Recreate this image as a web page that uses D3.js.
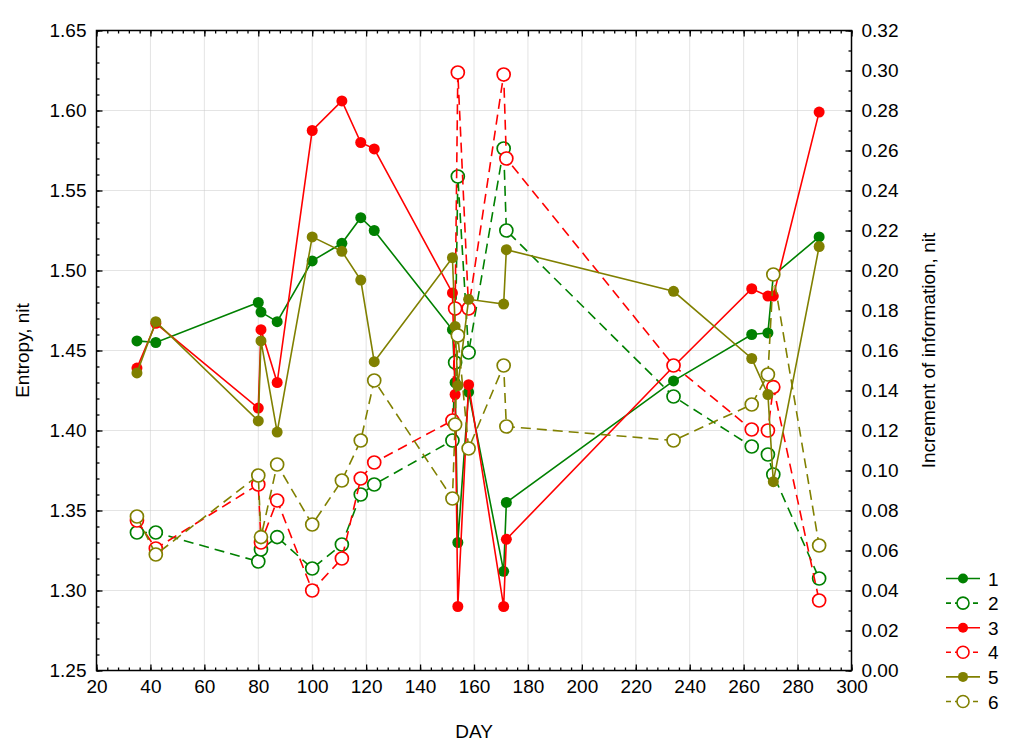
<!DOCTYPE html>
<html>
<head>
<meta charset="utf-8">
<script src="https://cdn.jsdelivr.net/npm/d3@7"></script>
<style>
  html, body { margin: 0; padding: 0; background: #fff; }
  svg { display: block; font-family: "Liberation Sans", Arial, sans-serif; }
</style>
</head>
<body>
<svg id="chart" width="1024" height="753"></svg>
<script>
// ---- Data ----
const days = [35, 42, 80, 81, 87, 100, 111, 118, 123, 152, 153, 154, 158, 171, 172, 234, 263, 269, 271, 288];

// Entropy, nit (left axis)
const series1 = [1.456, 1.455, 1.480, 1.474, 1.468, 1.506, 1.517, 1.533, 1.525, 1.463, 1.430, 1.330, 1.424, 1.312, 1.355, 1.431, 1.460, 1.461, 1.497, 1.521];
const series3 = [1.439, 1.467, 1.414, 1.463, 1.430, 1.5875, 1.606, 1.580, 1.576, 1.486, 1.4225, 1.290, 1.4286, 1.290, 1.332, 1.440, 1.4886, 1.484, 1.484, 1.599];
const series5 = [1.436, 1.468, 1.406, 1.456, 1.399, 1.521, 1.512, 1.494, 1.443, 1.508, 1.465, 1.428, 1.482, 1.479, 1.513, 1.487, 1.445, 1.4225, 1.368, 1.515];

// Increment of information, nit (right axis)
const series2 = [0.069, 0.069, 0.0545, 0.0605, 0.0667, 0.051, 0.063, 0.088, 0.093, 0.115, 0.154, 0.247, 0.159, 0.261, 0.220, 0.137, 0.112, 0.108, 0.098, 0.046];
const series4 = [0.075, 0.061, 0.093, 0.064, 0.085, 0.040, 0.056, 0.096, 0.104, 0.125, 0.181, 0.299, 0.181, 0.298, 0.256, 0.1525, 0.1205, 0.120, 0.1417, 0.035];
const series6 = [0.077, 0.058, 0.0975, 0.0667, 0.103, 0.073, 0.095, 0.115, 0.145, 0.086, 0.123, 0.1675, 0.111, 0.1525, 0.122, 0.115, 0.133, 0.148, 0.198, 0.0625];

const seriesNames = ["1", "2", "3", "4", "5", "6"];
const seriesValues = [series1, series2, series3, series4, series5, series6];
const seriesAxis = ["left", "right", "left", "right", "left", "right"];
const seriesColors = ["#008000", "#008000", "#ff0000", "#ff0000", "#808000", "#808000"];
const seriesFilled = [true, false, true, false, true, false];

const xTicks = [20, 40, 60, 80, 100, 120, 140, 160, 180, 200, 220, 240, 260, 280, 300];
const leftTicks = [1.25, 1.30, 1.35, 1.40, 1.45, 1.50, 1.55, 1.60, 1.65];
const rightTicks = [0.00, 0.02, 0.04, 0.06, 0.08, 0.10, 0.12, 0.14, 0.16, 0.18, 0.20, 0.22, 0.24, 0.26, 0.28, 0.30, 0.32];

const xLabel = "DAY";
const leftLabel = "Entropy, nit";
const rightLabel = "Increment of information, nit";

// ---- Layout ----
const L = 96.5, R = 851.5, T = 30.5, B = 670.5;
const svg = d3.select("#chart");

const x = d3.scaleLinear().domain([20, 300]).range([L, R]);
const yL = d3.scaleLinear().domain([1.25, 1.65]).range([B, T]);
const yR = d3.scaleLinear().domain([0, 0.32]).range([B, T]);

// Grid (dotted light grey)
const grid = svg.append("g");
grid.selectAll("line.gx").data(xTicks.slice(1, -1)).enter().append("line")
  .attr("x1", d => x(d)).attr("x2", d => x(d)).attr("y1", T).attr("y2", B)
  .attr("stroke", "#c8c8c8").attr("stroke-width", 1).attr("stroke-dasharray", "1,1");
grid.selectAll("line.gy").data(leftTicks.slice(1, -1)).enter().append("line")
  .attr("x1", L).attr("x2", R).attr("y1", d => yL(d)).attr("y2", d => yL(d))
  .attr("stroke", "#c8c8c8").attr("stroke-width", 1).attr("stroke-dasharray", "1,1");

// Axes helpers
function styleAxis(g) {
  g.attr("font-size", 19).attr("font-family", "'Liberation Sans', Arial, sans-serif");
  g.select(".domain").remove();
  g.selectAll(".tick line").attr("stroke", "#000").attr("stroke-width", 1.3);
  g.selectAll(".tick text").attr("fill", "#000");
}
const minorX = d3.range(20, 300.01, 4);
const minorL = d3.range(1.25, 1.6501, 0.01);
const minorR = d3.range(0, 0.3201, 0.01);

// Bottom
svg.append("g").attr("transform", `translate(0,${B})`)
  .call(d3.axisBottom(x).tickValues(xTicks).tickFormat(d3.format("d")).tickSizeInner(-6).tickSizeOuter(0).tickPadding(9))
  .call(styleAxis);
svg.append("g").attr("transform", `translate(0,${B})`)
  .call(d3.axisBottom(x).tickValues(minorX).tickFormat("").tickSizeInner(-3).tickSizeOuter(0))
  .call(styleAxis);
// Top
svg.append("g").attr("transform", `translate(0,${T})`)
  .call(d3.axisTop(x).tickValues(xTicks).tickFormat("").tickSizeInner(-6).tickSizeOuter(0))
  .call(styleAxis);
svg.append("g").attr("transform", `translate(0,${T})`)
  .call(d3.axisTop(x).tickValues(minorX).tickFormat("").tickSizeInner(-3).tickSizeOuter(0))
  .call(styleAxis);
// Left
svg.append("g").attr("transform", `translate(${L},0)`)
  .call(d3.axisLeft(yL).tickValues(leftTicks).tickFormat(d3.format(".2f")).tickSizeInner(-6).tickSizeOuter(0).tickPadding(10))
  .call(styleAxis);
svg.append("g").attr("transform", `translate(${L},0)`)
  .call(d3.axisLeft(yL).tickValues(minorL).tickFormat("").tickSizeInner(-3).tickSizeOuter(0))
  .call(styleAxis);
// Right
svg.append("g").attr("transform", `translate(${R},0)`)
  .call(d3.axisRight(yR).tickValues(rightTicks).tickFormat(d3.format(".2f")).tickSizeInner(-6).tickSizeOuter(0).tickPadding(10))
  .call(styleAxis);
svg.append("g").attr("transform", `translate(${R},0)`)
  .call(d3.axisRight(yR).tickValues(minorR).tickFormat("").tickSizeInner(-3).tickSizeOuter(0))
  .call(styleAxis);

// Frame
svg.append("rect").attr("x", L).attr("y", T).attr("width", R - L).attr("height", B - T)
  .attr("fill", "none").attr("stroke", "#000").attr("stroke-width", 1.5);

// Axis titles
svg.append("text").attr("x", (L + R) / 2).attr("y", 738).attr("text-anchor", "middle")
  .attr("font-size", 19).text(xLabel);
svg.append("text").attr("transform", `translate(29,${(T + B) / 2}) rotate(-90)`).attr("text-anchor", "middle")
  .attr("font-size", 19).text(leftLabel);
svg.append("text").attr("transform", `translate(935,${(T + B) / 2}) rotate(-90)`).attr("text-anchor", "middle")
  .attr("font-size", 19).text(rightLabel);

// Series
const plot = svg.append("g");
seriesNames.forEach((name, i) => {
  const yS = seriesAxis[i] === "left" ? yL : yR;
  const pts = days.map((d, j) => ({ day: d, v: seriesValues[i][j] })).filter(p => p.v != null);
  const line = d3.line().x(p => x(p.day)).y(p => yS(p.v));
  const g = plot.append("g");
  g.append("path").datum(pts).attr("d", line).attr("fill", "none")
    .attr("stroke", seriesColors[i]).attr("stroke-width", 1.6)
    .attr("stroke-dasharray", seriesFilled[i] ? null : "10,6");
  g.selectAll("circle").data(pts).enter().append("circle")
    .attr("cx", p => x(p.day)).attr("cy", p => yS(p.v))
    .attr("r", seriesFilled[i] ? 5.5 : 6.5)
    .attr("fill", seriesFilled[i] ? seriesColors[i] : "#fff")
    .attr("stroke", seriesColors[i]).attr("stroke-width", seriesFilled[i] ? 0 : 1.7);
});

// Legend
const lg = svg.append("g");
seriesNames.forEach((name, i) => {
  const yy = 578.5 + i * 24.6;
  lg.append("line").attr("x1", 946).attr("x2", 980).attr("y1", yy).attr("y2", yy)
    .attr("stroke", seriesColors[i]).attr("stroke-width", 1.6)
    .attr("stroke-dasharray", seriesFilled[i] ? null : "5,4");
  lg.append("circle").attr("cx", 963).attr("cy", yy).attr("r", seriesFilled[i] ? 5 : 6)
    .attr("fill", seriesFilled[i] ? seriesColors[i] : "#fff")
    .attr("stroke", seriesColors[i]).attr("stroke-width", seriesFilled[i] ? 0 : 1.6);
  lg.append("text").attr("x", 988).attr("y", yy + 7).attr("font-size", 19).text(name);
});
</script>
</body>
</html>
